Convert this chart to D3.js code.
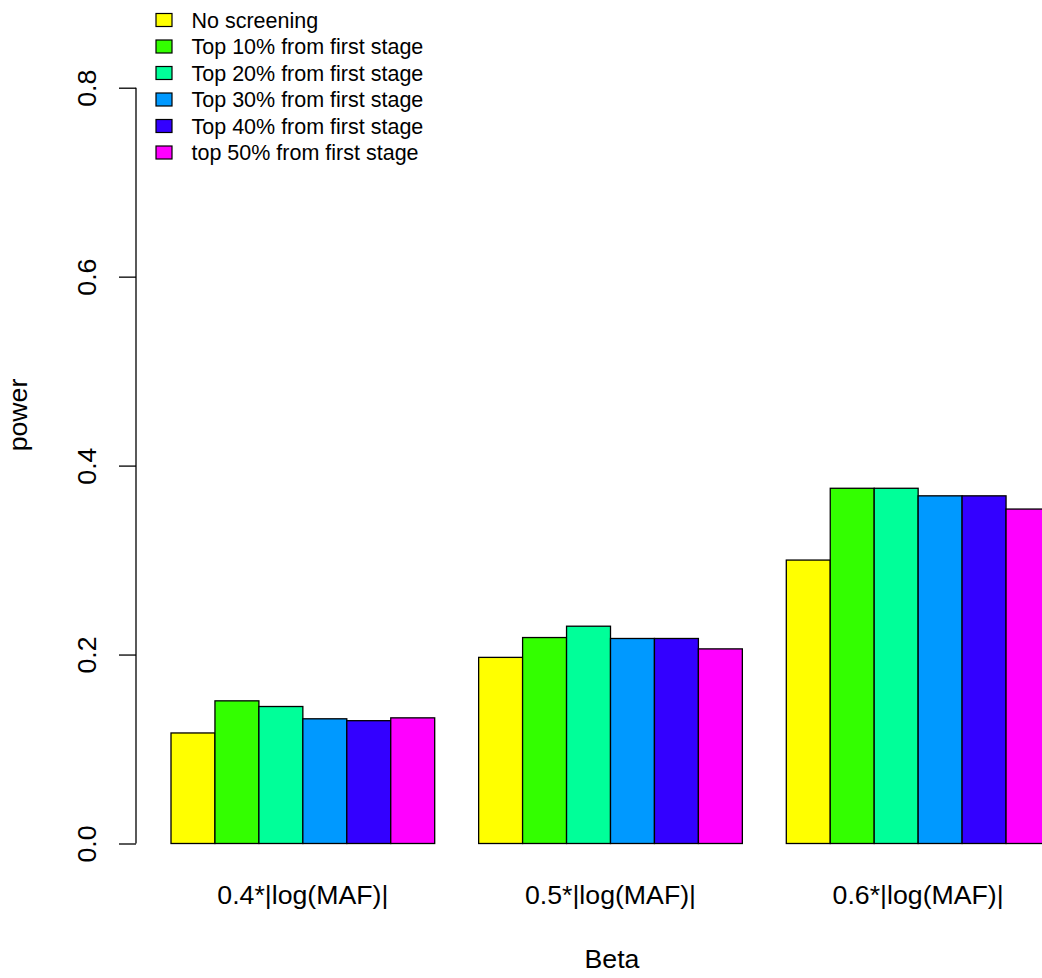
<!DOCTYPE html>
<html>
<head>
<meta charset="utf-8">
<script src="https://cdn.jsdelivr.net/npm/d3@7"></script>
<style>
    html, body { margin: 0; padding: 0; background: #fff; }
    svg { display: block; font-family: "Liberation Sans", Arial, Helvetica, sans-serif; }
</style>
</head>
<body>
<div id="chart"></div>
<script>
// DATA
const groups = ["0.4*|log(MAF)|", "0.5*|log(MAF)|", "0.6*|log(MAF)|"];
const seriesNames = [
    "No screening",
    "Top 10% from first stage",
    "Top 20% from first stage",
    "Top 30% from first stage",
    "Top 40% from first stage",
    "top 50% from first stage"
];
const seriesColors = ["#FFFF00", "#33FF00", "#00FF99", "#0099FF", "#3300FF", "#FF00FF"];

// power per series, one value per group
const noScreening = [0.117, 0.197, 0.300];
const top10 = [0.151, 0.218, 0.376];
const top20 = [0.145, 0.230, 0.376];
const top30 = [0.132, 0.217, 0.368];
const top40 = [0.130, 0.217, 0.368];
const top50 = [0.133, 0.206, 0.354];
const seriesValues = [noScreening, top10, top20, top30, top40, top50];

const yTicks = [0, 0.2, 0.4, 0.6, 0.8];

// CHART VARIABLES
const width = 1042;
const height = 978;
const axisFont = 26.7;
const legendFont = 21.5;

const svg = d3.select("#chart")
    .append("svg")
        .attr("width", width)
        .attr("height", height);

// scales
const x0 = d3.scaleBand()
    .domain(groups)
    .range([171, 1050])
    .paddingInner(1 / 7)
    .paddingOuter(0);

const x1 = d3.scaleBand()
    .domain(d3.range(seriesNames.length))
    .range([0, x0.bandwidth()]);

const y = d3.scaleLinear()
    .domain([0, 0.8])
    .range([843.5, 87.7]);

const color = d3.scaleOrdinal()
    .domain(d3.range(seriesNames.length))
    .range(seriesColors);

// flat rows for the bars
const rows = [];
groups.forEach((g, gi) => {
    seriesValues.forEach((vals, si) => {
        rows.push({group: g, s: si, value: vals[gi]});
    });
});

// bars
svg.append("g")
    .selectAll("rect")
    .data(rows)
    .join("rect")
        .attr("x", d => x0(d.group) + x1(d.s))
        .attr("y", d => y(d.value))
        .attr("width", x1.bandwidth())
        .attr("height", d => y(0) - y(d.value))
        .attr("fill", d => color(d.s))
        .attr("stroke", "#000")
        .attr("stroke-width", 1.3);

// y axis
const yAxis = d3.axisLeft(y)
    .tickValues(yTicks)
    .tickSize(17)
    .tickSizeOuter(0)
    .tickFormat(d3.format(".1f"));

svg.append("g")
    .attr("transform", "translate(136,0)")
    .call(yAxis)
    .call(g => g.select(".domain")
        .attr("stroke", "#000")
        .attr("stroke-width", 1.3)
        .attr("d", `M0,${y(0)}V${y(0.8)}`))
    .call(g => g.selectAll(".tick line").attr("stroke", "#000").attr("stroke-width", 1.3))
    .call(g => g.selectAll(".tick text")
        .attr("x", null)
        .attr("dy", null)
        .attr("transform", "translate(-40,0) rotate(-90)")
        .attr("text-anchor", "middle")
        .attr("font-size", axisFont)
        .attr("font-family", "Liberation Sans, Arial, sans-serif")
        .attr("fill", "#000"));

// group labels
svg.append("g")
    .selectAll("text")
    .data(groups)
    .join("text")
        .attr("x", d => x0(d) + x0.bandwidth() / 2)
        .attr("y", 904)
        .attr("text-anchor", "middle")
        .attr("font-size", axisFont)
        .text(d => d);

// axis titles
svg.append("text")
    .attr("x", 612)
    .attr("y", 968)
    .attr("text-anchor", "middle")
    .attr("font-size", axisFont)
    .text("Beta");

svg.append("text")
    .attr("transform", "translate(27,415) rotate(-90)")
    .attr("text-anchor", "middle")
    .attr("font-size", axisFont)
    .text("power");

// legend
const legend = svg.append("g")
    .selectAll("g")
    .data(seriesNames)
    .join("g")
        .attr("transform", (d, i) => `translate(0,${20 + i * 26.5})`);

legend.append("rect")
    .attr("x", 156)
    .attr("y", -6.5)
    .attr("width", 16)
    .attr("height", 13)
    .attr("fill", (d, i) => color(i))
    .attr("stroke", "#000")
    .attr("stroke-width", 1.2);

legend.append("text")
    .attr("x", 191.5)
    .attr("dy", "0.35em")
    .attr("font-size", legendFont)
    .text(d => d);
</script>
</body>
</html>
